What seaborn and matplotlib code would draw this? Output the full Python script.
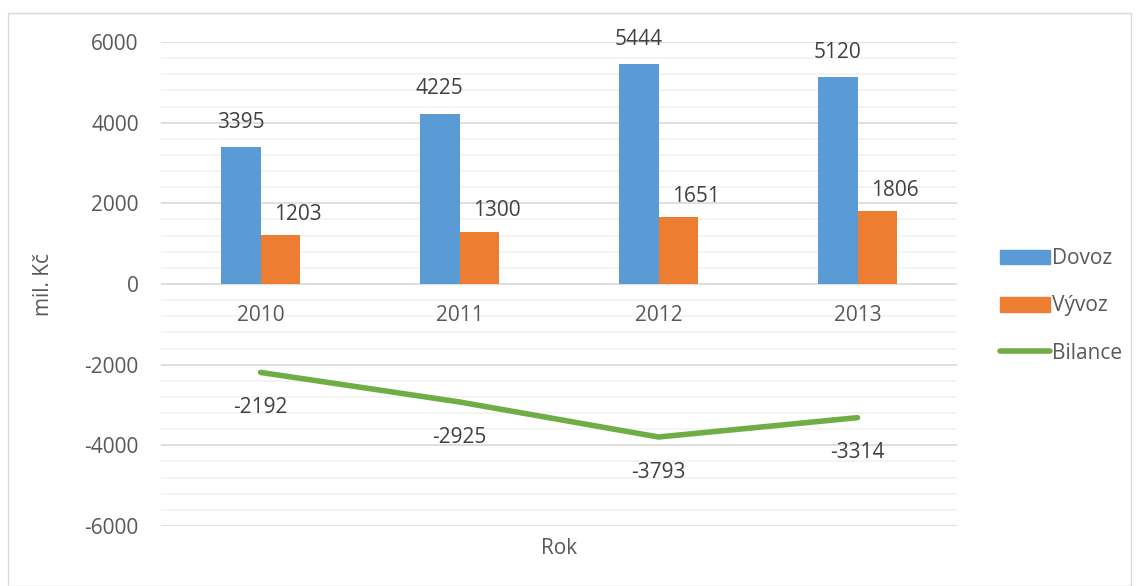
import seaborn as sns
import pandas as pd
import matplotlib.pyplot as plt
import matplotlib.ticker as mtick
from matplotlib.patches import Rectangle

years = ['2010', '2011', '2012', '2013']
dovoz = [3395, 4225, 5444, 5120]
vyvoz = [1203, 1300, 1651, 1806]
bilance = [-2192, -2925, -3793, -3314]

sns.set_style('white')
plt.rcParams['font.family'] = ['Open Sans', 'DejaVu Sans']
plt.rcParams['axes.unicode_minus'] = False

bars = pd.DataFrame({'Rok': years * 2,
                     'value': dovoz + vyvoz,
                     'serie': ['Dovoz'] * 4 + ['Vývoz'] * 4})
line = pd.DataFrame({'pos': range(4), 'value': bilance})

fig = plt.figure(figsize=(11.39, 5.86), dpi=100)
fig.patches.append(Rectangle((8 / 1139, 0), 1123 / 1139, 573 / 586, transform=fig.transFigure,
                             fill=False, edgecolor='#d9d9d9', linewidth=1))
ax = fig.add_axes([161 / 1139, 60 / 586, 796 / 1139, 484 / 586])

colors = {'Dovoz': '#5b9bd5', 'Vývoz': '#ed7d31'}
sns.barplot(data=bars, x='Rok', y='value', hue='serie', palette=colors,
            width=0.4, gap=0, saturation=1, linewidth=0, ax=ax, legend=False)
sns.lineplot(data=line, x='pos', y='value', color='#70ad47', linewidth=4,
             solid_capstyle='round', ax=ax, legend=False)

fs = 15
ax.set_xlim(-0.5, 3.5)
ax.set_ylim(-6000, 6000)
ax.yaxis.set_major_locator(mtick.MultipleLocator(2000))
ax.yaxis.set_minor_locator(mtick.MultipleLocator(400))
ax.grid(which='minor', axis='y', color='#f2f2f2', linewidth=1.2)
ax.grid(which='major', axis='y', color='#d9d9d9', linewidth=1.2)
ax.set_axisbelow(True)
for s in ax.spines.values():
    s.set_visible(False)
ax.tick_params(axis='both', which='both', length=0, labelsize=fs, labelcolor='#595959')
ax.tick_params(axis='y', pad=16)

# category labels sit next to the zero line
ax.set_xticks([])
for i, y in enumerate(years):
    ax.text(i, -780, y, ha='center', va='center', fontsize=fs, color='#595959')
ax.set_xlabel('')
ax.set_ylabel('mil. Kč', fontsize=fs, color='#595959', labelpad=22)
fig.text(559 / 1139, 1 - 548 / 586, 'Rok', ha='center', va='center', fontsize=fs, color='#595959')

for i in range(4):
    ax.text(i - 0.1, dovoz[i] + 620, str(dovoz[i]), ha='center', va='center', fontsize=fs, color='#404040')
    ax.text(i + 0.19, vyvoz[i] + 520, str(vyvoz[i]), ha='center', va='center', fontsize=fs, color='#404040')
    ax.text(i, bilance[i] - 870, str(bilance[i]), ha='center', va='center', fontsize=fs, color='#404040')

handles = [Rectangle((0, 0), 1, 1, color='#5b9bd5'),
           Rectangle((0, 0), 1, 1, color='#ed7d31'),
           plt.Line2D([], [], color='#70ad47', linewidth=4, solid_capstyle='round')]
leg = fig.legend(handles, ['Dovoz', 'Vývoz', 'Bilance'], loc='center left',
                 bbox_to_anchor=(981 / 1139, 1 - 306 / 586), frameon=False,
                 fontsize=fs, handlelength=2.4, handleheight=0.7, handletextpad=0.1,
                 labelspacing=1.25)
for t in leg.get_texts():
    t.set_color('#595959')

fig.savefig('out.png', dpi=100)
